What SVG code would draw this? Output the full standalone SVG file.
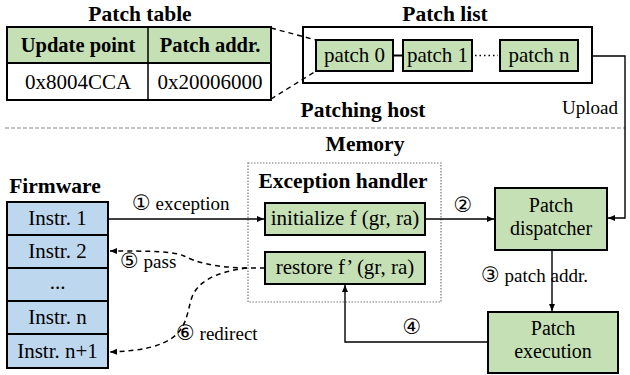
<svg xmlns="http://www.w3.org/2000/svg" width="630" height="375" viewBox="0 0 630 375" font-family="'Liberation Serif', serif">
<defs>
<style>
.t{font-size:21px;text-anchor:middle}
.t2{font-size:20px;text-anchor:middle}
.b{font-size:21.5px;font-weight:bold;text-anchor:middle}
.l{font-size:19px}
.c{font-family:'DejaVu Sans', sans-serif;font-size:21px}
.g{fill:#c5e0b4;stroke:#000;stroke-width:2}
.bl{fill:#bdd7ee;stroke:#000;stroke-width:2}
.w{fill:#fff;stroke:#000;stroke-width:2}
.ln{fill:none;stroke:#000;stroke-width:1.4}
.dl{fill:none;stroke:#000;stroke-width:1.5;stroke-dasharray:5 4}
</style>
<marker id="ah" markerUnits="userSpaceOnUse" markerWidth="8" markerHeight="8" refX="7" refY="4" orient="auto">
<path d="M0,1 L7,4 L0,7 Z" fill="#000"/>
</marker>
</defs>
<rect width="630" height="375" fill="#fff"/>

<g id="patch-table">
<text class="b" x="140" y="21">Patch table</text>
<rect x="7" y="27" width="264" height="73" class="w"/>
<rect x="7" y="27" width="264" height="36" fill="#c5e0b4" stroke="#000" stroke-width="2"/>
<line x1="148" y1="27" x2="148" y2="100" stroke="#000" stroke-width="1.5"/>
<text class="b" x="78" y="52" style="font-size:20.5px">Update point</text>
<text class="b" x="210" y="52" style="font-size:20.5px">Patch addr.</text>
<text class="t" x="78" y="89">0x8004CCA</text>
<text class="t" x="210" y="89">0x20006000</text>
</g>

<g id="patch-list">
<text class="b" x="445" y="21">Patch list</text>
<rect x="303" y="27" width="289" height="56" class="w"/>
<g id="patch0"><rect x="316" y="40" width="77" height="31" class="g"/><text class="t" x="354.5" y="62">patch 0</text></g>
<g id="patch1"><rect x="403" y="40" width="69" height="31" class="g"/><text class="t" x="437.5" y="62">patch 1</text></g>
<g id="patchn"><rect x="500" y="40" width="78" height="31" class="g"/><text class="t" x="539" y="62">patch n</text></g>
</g>

<g id="labels">
<text class="b" x="363" y="117">Patching host</text>
<text class="l" x="618" y="114" text-anchor="end">Upload</text>
<text class="b" x="365" y="151">Memory</text>
<text class="b" x="55" y="193">Firmware</text>
</g>

<line x1="5" y1="128" x2="625" y2="128" stroke="#888" stroke-width="1.2" stroke-dasharray="4 2"/>

<g id="firmware">
<rect x="7" y="202" width="101" height="33" class="bl"/>
<rect x="7" y="235" width="101" height="33" class="bl"/>
<rect x="7" y="268" width="101" height="33" class="bl"/>
<rect x="7" y="301" width="101" height="33" class="bl"/>
<rect x="7" y="334" width="101" height="34" class="bl"/>
<text class="t" x="57.5" y="225">Instr. 1</text>
<text class="t" x="57.5" y="258">Instr. 2</text>
<text class="t" x="57.5" y="289">...</text>
<text class="t" x="57.5" y="324">Instr. n</text>
<text class="t" x="57.5" y="358">Instr. n+1</text>
</g>

<g id="exception-handler">
<rect x="248" y="163" width="193" height="139" fill="none" stroke="#777" stroke-width="1.2" stroke-dasharray="1.5 1.5"/>
<text class="b" x="343" y="188">Exception handler</text>
</g>
<g id="initialize"><rect x="265" y="203" width="160" height="32" class="g"/><text class="t" x="345" y="225">initialize f (gr, ra)</text></g>
<g id="restore"><rect x="265" y="252" width="160" height="32" class="g"/><text class="t" x="345" y="274">restore f’ (gr, ra)</text></g>

<g id="dispatcher"><rect x="495" y="188" width="112" height="62" class="g"/><text class="t2" x="551" y="212">Patch</text><text class="t2" x="551" y="235">dispatcher</text></g>
<g id="execution"><rect x="488" y="312" width="130" height="61" class="g"/><text class="t2" x="553" y="335">Patch</text><text class="t2" x="553" y="358">execution</text></g>

<g id="connectors">
<line x1="271" y1="28" x2="316" y2="40" stroke="#000" stroke-width="1.4" stroke-dasharray="5 4"/>
<line x1="271" y1="99" x2="316" y2="71" stroke="#000" stroke-width="1.4" stroke-dasharray="5 4"/>
<line x1="393" y1="55.5" x2="403" y2="55.5" stroke="#000" stroke-width="2"/>
<line x1="475" y1="55.5" x2="498" y2="55.5" stroke="#000" stroke-width="1.5" stroke-dasharray="1.5 3"/>
<path class="ln" d="M592 56 H625 V218 H608" marker-end="url(#ah)"/>
<line class="ln" x1="108" y1="219" x2="264" y2="219" marker-end="url(#ah)"/>
<line class="ln" x1="425" y1="219" x2="494" y2="219" marker-end="url(#ah)"/>
<line class="ln" x1="552" y1="250" x2="552" y2="311" marker-end="url(#ah)"/>
<path class="ln" d="M488 342 H345 V285" marker-end="url(#ah)"/>
<path class="dl" d="M265 268 L245 268 C212 267 196 262 184 256 C173 251 150 251 110 251" marker-end="url(#ah)"/>
<path class="dl" d="M247 268 C215 272 196 282 191 300 C187 315 186 325 176 335 C162 347 140 351 110 352" marker-end="url(#ah)"/>
<text class="l" x="132" y="210"><tspan class="c">①</tspan> exception</text>
<text class="l" x="463" y="212" text-anchor="middle"><tspan class="c">②</tspan></text>
<text class="l" x="481" y="282"><tspan class="c">③</tspan> patch addr.</text>
<text class="l" x="412" y="334" text-anchor="middle"><tspan class="c">④</tspan></text>
<text class="l" x="120" y="268"><tspan class="c">⑤</tspan> pass</text>
<text class="l" x="176" y="340"><tspan class="c">⑥</tspan> redirect</text>
</g>
</svg>
